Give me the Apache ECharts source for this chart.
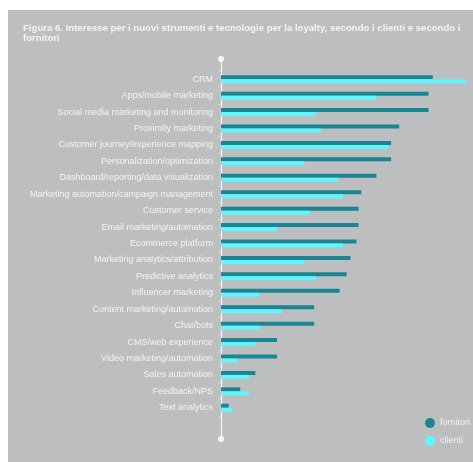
<!DOCTYPE html>
<html>
<head>
<meta charset="utf-8">
<script src="https://cdn.jsdelivr.net/npm/echarts@6/dist/echarts.min.js"></script>
<style>
html,body{margin:0;padding:0;background:#fff;}
#wrap{position:relative;width:473px;height:462px;background:#fff;overflow:hidden;}
#bg{position:absolute;left:8px;top:10px;right:0;bottom:0;background:#bdbec0;}
#chart{position:absolute;left:0;top:0;width:473px;height:462px;}
</style>
</head>
<body>
<div id="wrap"><div id="bg"></div><div id="chart"></div></div>
<script>
const categories = [
  "CRM",
  "Apps/mobile marketing",
  "Social media marketing and monitoring",
  "Proximity marketing",
  "Customer journey/experience mapping",
  "Personalization/optimization",
  "Dashboard/reporting/data visualization",
  "Marketing automation/campaign management",
  "Customer service",
  "Email marketing/automation",
  "Ecommerce platform",
  "Marketing analytics/attribution",
  "Predictive analytics",
  "Influencer marketing",
  "Content marketing/automation",
  "Chat/bots",
  "CMS/web experience",
  "Video marketing/automation",
  "Sales automation",
  "Feedback/NPS",
  "Text analytics"
];
const fornitori = [60.5, 59.3, 59.3, 50.9, 48.6, 48.6, 44.4, 40.1, 39.3, 39.3, 38.7, 37.0, 35.9, 33.9, 26.6, 26.6, 16.0, 16.0, 9.8, 5.5, 2.2];
const clienti   = [70.0, 44.4, 27.1, 28.5, 47.8, 23.8, 33.4, 34.9, 25.4, 16.0, 34.9, 23.8, 27.1, 11.0, 17.5, 11.1, 9.7, 4.7, 8.0, 8.0, 3.2];
const titleText = "Figura 6. Interesse per i nuovi strumenti e tecnologie per la loyalty, secondo i clienti e secondo i\nfornitori";

const chart = echarts.init(document.getElementById('chart'), null, {renderer: 'canvas'});
chart.setOption({
  backgroundColor: 'transparent',
  animation: false,
  title: {
    text: titleText,
    left: 18,
    top: 18,
    textStyle: {color: '#f4f4f4', fontSize: 9.6, fontWeight: 'bold', fontFamily: 'Liberation Sans', lineHeight: 10.5}
  },
  legend: {
    orient: 'vertical',
    left: 420,
    top: 413,
    icon: 'circle',
    itemWidth: 10,
    itemHeight: 10,
    itemGap: 8,
    textStyle: {color: '#f2f2f2', fontSize: 9, fontFamily: 'Liberation Sans'},
    data: ['fornitori', 'clienti']
  },
  grid: [
    {left: 221, top: 71, bottom: 46, width: 245, containLabel: false},
    {left: 221, top: 59, bottom: 23, width: 10}
  ],
  xAxis: [
    {type: 'value', gridIndex: 0, min: 0, max: 70, show: false},
    {type: 'value', gridIndex: 1, show: false}
  ],
  yAxis: [
    {
      type: 'category', gridIndex: 0, data: categories, inverse: true,
      axisLine: {show: false},
      axisTick: {show: true, length: 3, lineStyle: {color: '#d9d5c4'}},
      axisLabel: {color: '#f4f4f4', fontSize: 9, fontFamily: 'Liberation Sans', margin: 8}
    },
    {
      type: 'value', gridIndex: 1, min: 0, max: 1,
      axisLine: {show: true, symbol: ['circle', 'circle'], symbolSize: [6, 6], lineStyle: {color: '#f8f8f8', width: 1.2}},
      axisTick: {show: false}, axisLabel: {show: false}, splitLine: {show: false}
    }
  ],
  series: [
    {name: 'fornitori', type: 'bar', xAxisIndex: 0, yAxisIndex: 0, data: fornitori, barWidth: 4, barGap: '0%',
     itemStyle: {color: '#1b8591'}},
    {name: 'clienti', type: 'bar', xAxisIndex: 0, yAxisIndex: 0, data: clienti, barWidth: 4, barGap: '0%',
     itemStyle: {color: '#5ff6fd'}}
  ]
});
</script>
</body>
</html>
